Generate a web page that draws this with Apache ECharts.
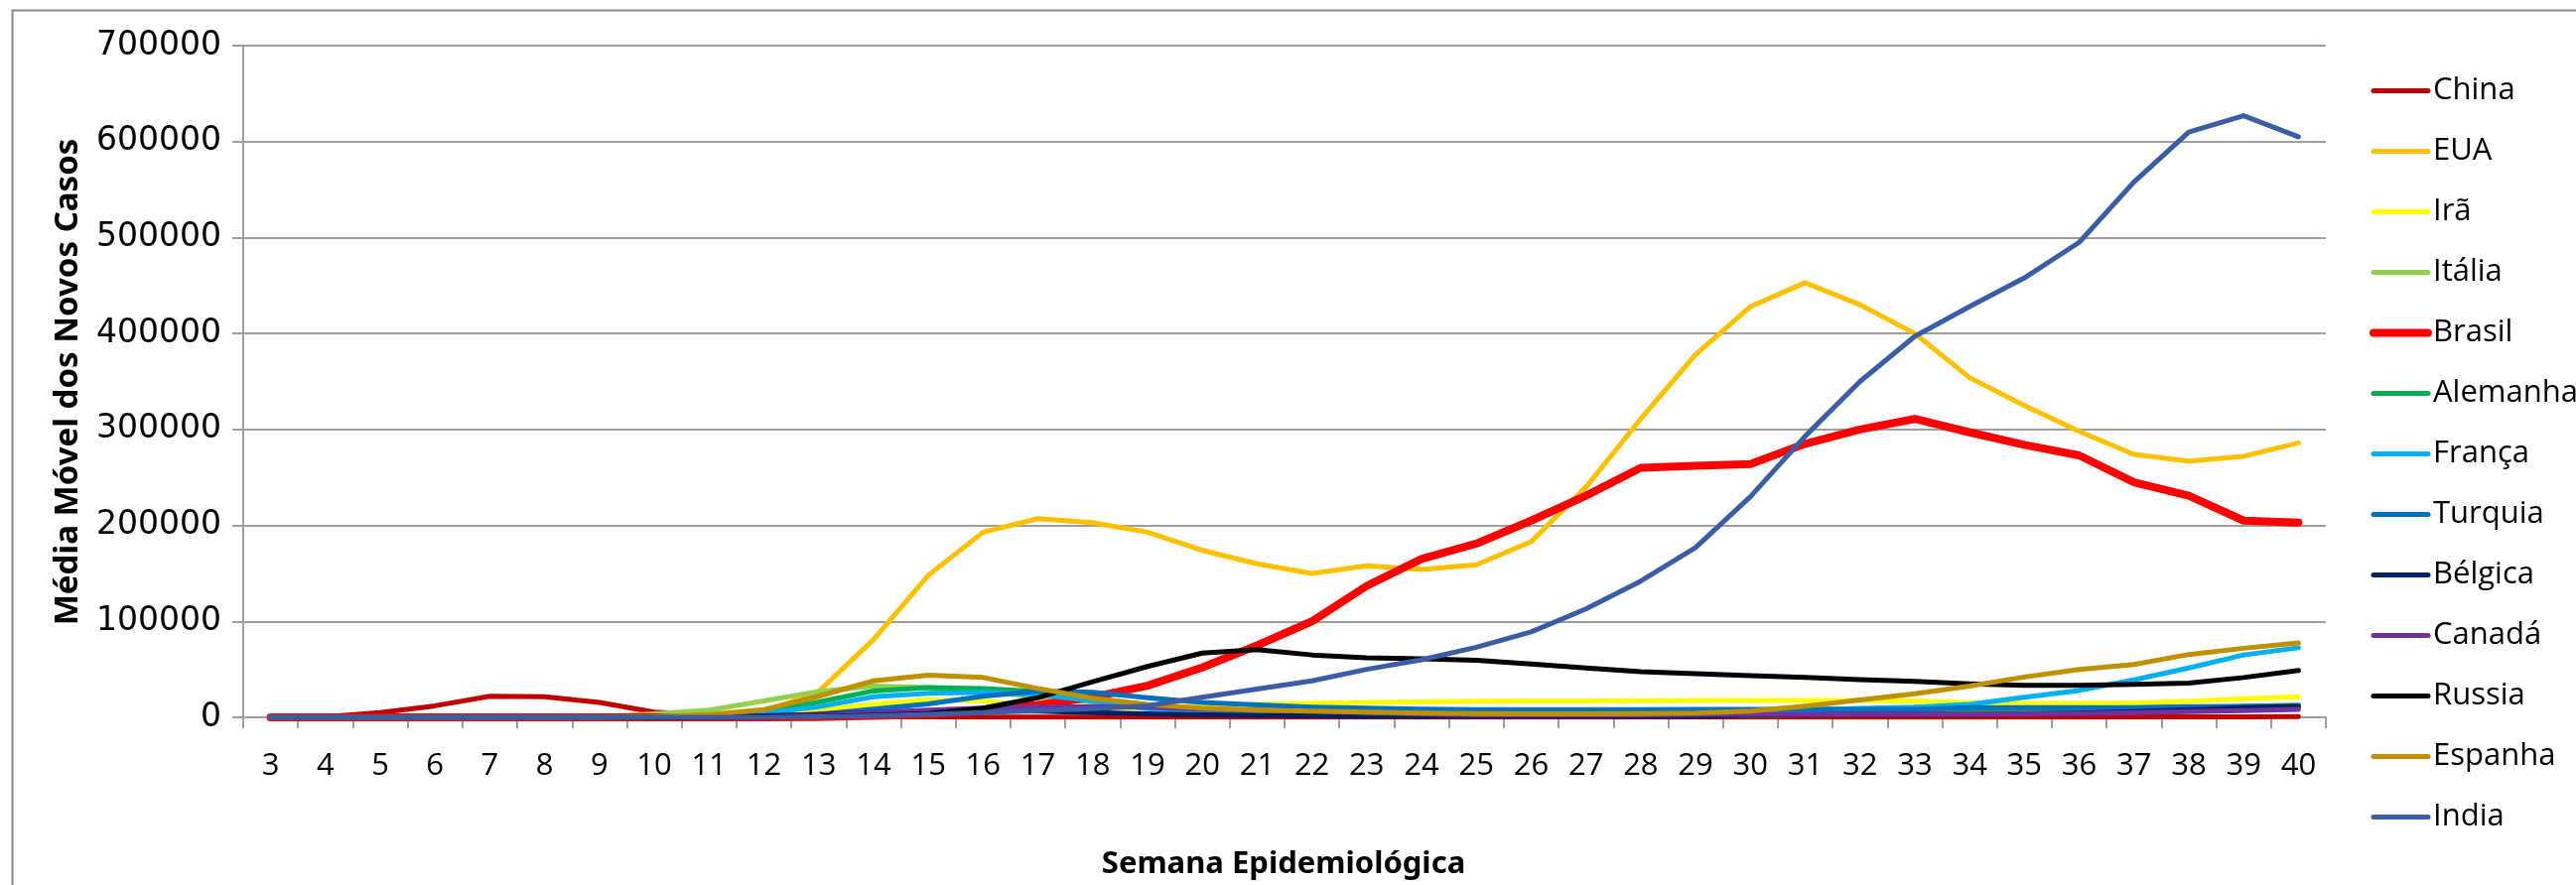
<!DOCTYPE html>
<html>
<head>
<meta charset="utf-8">
<script src="https://cdn.jsdelivr.net/npm/echarts@6/dist/echarts.min.js"></script>
<style>
html,body{margin:0;padding:0;background:#fff;}
#chart{width:2595px;height:892px;}
</style>
</head>
<body>
<div id="chart"></div>
<script>
// Semana epidemiológica (categorias)
const weeks = ['3','4','5','6','7','8','9','10','11','12','13','14','15','16','17','18','19','20','21','22','23','24','25','26','27','28','29','30','31','32','33','34','35','36','37','38','39','40'];
const yTicks = [0,100000,200000,300000,400000,500000,600000,700000];

const china    = [0,500,5000,12000,22000,21500,15500,5500,2500,1000, 600,500,500,300,200,200,200,200,200,200, 200,200,200,300,300,300,300,300,300,300, 300,300,300,300,400,500,600,800];
const eua      = [0,0,0,0,0,0,0,100,1000,5000, 27000,81000,148000,193000,207000,203000,193000,174000,160000,150000, 158000,154000,159000,183000,240000,311000,378000,428000,453000,430000, 400000,354000,325000,298000,274000,267000,272000,286000];
const ira      = [0,0,0,0,0,0,200,1500,2500,3500, 7600,13800,18300,17000,12000,9500,9500,12000,13800,14500, 15500,16000,16900,17000,17000,17300,17600,17600,17600,17600, 17000,15200,14500,14500,15000,16900,19300,21400];
const italia   = [0,0,0,0,0,0,500,3500,7500,17000, 27000,32500,31000,27000,21000,16000,11000,7000,5000,3500, 2500,2000,1700,1500,1500,1600,1700,2000,2500,3500, 5000,7000,8500,9500,10000,10500,11500,13000];
const brasil   = [0,0,0,0,0,0,0,0,0,0, 300,1500,3000,7000,13000,21000,33000,52000,75000,100000, 137000,165000,181000,205000,231000,260000,262000,264000,285000,300000, 311000,297000,284000,273000,245000,231000,205000,203000];
const alemanha = [0,0,0,0,0,0,0,500,2000,5000, 16000,27500,31000,30000,27000,20000,12000,7500,5000,3500, 3000,2500,2500,2500,3000,3000,3500,4000,5000,6500, 8000,8500,8500,9000,9500,10000,11000,12500];
const franca   = [0,0,0,0,0,0,0,500,1500,4000, 11000,21500,25000,26000,24000,17000,9000,5500,4000,3500, 3000,3000,3000,3500,4000,5000,6000,7000,8000,9300, 10700,13400,21000,28000,39000,51500,65000,72500];
const turquia  = [0,0,0,0,0,0,0,0,0,300, 3000,8600,14000,22000,27500,26000,20500,15500,12800,10700, 9500,8500,8000,8000,8000,8000,8300,8300,8300,8300, 8300,10000,10000,10000,10000,11000,11400,11700];
const belgica  = [0,0,0,0,0,0,0,0,300,1500, 3000,5000,6500,7000,6500,5000,3500,2500,2000,1500, 1000,1000,1000,1000,1000,1000,1000,2000,2500,3000, 3000,3000,3500,4500,6000,8000,10000,11500];
const canada   = [0,0,0,0,0,0,0,0,0,500, 2000,5000,7500,9500,10500,11000,10500,8500,7500,6500, 5000,3500,2500,2500,2500,2500,3000,3000,3000,3000, 3000,3000,3500,4000,5000,6000,7000,8300];
const russia   = [0,0,0,0,0,0,0,0,0,200, 800,2000,4000,9500,20500,37000,53000,67000,70500,65000, 62000,61000,59500,55500,51500,47500,45500,43500,41700,39300, 37600,35000,33300,33400,34400,35700,41500,48800];
const espanha  = [0,0,0,0,0,0,0,500,2800,8000, 22000,38000,44000,41500,30000,20000,13500,9500,7500,6500, 5500,4500,4000,3500,3500,4000,4500,6500,11700,18000, 24500,32500,42000,49800,55000,65500,72000,77600];
const india    = [0,0,0,0,0,0,0,0,0,0, 500,1500,3000,5000,7000,9000,12000,21000,29500,38000, 50000,60000,73000,89000,113000,142000,177000,230000,293000,350000, 397000,428000,458000,495000,558000,610000,627000,605000];

const seriesDefs = [
  ['China', china, '#C00000', 5],
  ['EUA', eua, '#FFC000', 5],
  ['Irã', ira, '#FFFF00', 5],
  ['Itália', italia, '#92D050', 5],
  ['Brasil', brasil, '#FF0000', 8],
  ['Alemanha', alemanha, '#00B050', 5],
  ['França', franca, '#00B0F0', 5],
  ['Turquia', turquia, '#0070C0', 5],
  ['Bélgica', belgica, '#002060', 5],
  ['Canadá', canada, '#7030A0', 5],
  ['Russia', russia, '#000000', 5],
  ['Espanha', espanha, '#BF9000', 5],
  ['India', india, '#3A5DA6', 5]
];

const chart = echarts.init(document.getElementById('chart'), null, {renderer:'canvas'});
const gridColor = '#9f9f9f';
chart.setOption({
  animation: false,
  backgroundColor: '#ffffff',
  grid: {left: 245, right: 252, top: 46, bottom: 169, containLabel: false},
  legend: {
    orient: 'vertical',
    left: 2382,
    top: 71,
    itemWidth: 55,
    itemHeight: 14,
    itemGap: 30,
    textStyle: {fontFamily: '"Open Sans", "Noto Sans", sans-serif', fontSize: 31, lineHeight: 31, color: '#000'},
    data: seriesDefs.map(d => ({
      name: d[0],
      itemStyle: {opacity: 0},
      lineStyle: {color: d[2], width: d[3], cap: 'round'}
    }))
  },
  xAxis: {
    type: 'category',
    data: weeks,
    boundaryGap: true,
    axisLine: {show: true, lineStyle: {color: gridColor, width: 2}},
    axisTick: {show: true, length: 11, alignWithLabel: false, lineStyle: {color: gridColor, width: 2}},
    axisLabel: {fontFamily: '"Open Sans", "Noto Sans", sans-serif', fontSize: 31, color: '#000', margin: 34, interval: 0},
    splitLine: {show: false}
  },
  yAxis: {
    type: 'value',
    min: yTicks[0],
    max: yTicks[yTicks.length - 1],
    interval: yTicks[1] - yTicks[0],
    axisLine: {show: true, lineStyle: {color: gridColor, width: 2}},
    axisTick: {show: true, length: 11, lineStyle: {color: gridColor, width: 2}},
    axisLabel: {fontFamily: '"DejaVu Sans", sans-serif', fontSize: 33, color: '#000', margin: 22, formatter: v => String(v)},
    splitLine: {show: true, lineStyle: {color: gridColor, width: 2}}
  },
  graphic: [
    {type: 'rect', silent: true, z: -1, shape: {x: 12.5, y: 10.5, width: 2700, height: 1000}, style: {fill: 'none', stroke: '#8a8a8a', lineWidth: 2}},
    {type: 'text', x: 69, y: 385, rotation: Math.PI / 2, style: {text: 'Média Móvel dos Novos Casos', font: 'bold 33px "Noto Sans", sans-serif', fill: '#000', align: 'center', verticalAlign: 'middle', textAlign: 'center', textVerticalAlign: 'middle'}},
    {type: 'text', x: 1293, y: 871, style: {text: 'Semana Epidemiológica', font: 'bold 31px "Noto Sans", sans-serif', fill: '#000', align: 'center', verticalAlign: 'middle', textAlign: 'center', textVerticalAlign: 'middle'}}
  ],
  series: seriesDefs.map(d => ({
    name: d[0],
    type: 'line',
    data: d[1],
    showSymbol: false,
    symbol: 'circle',
    symbolSize: 0,
    itemStyle: {color: 'rgba(0,0,0,0)'},
    lineStyle: {color: d[2], width: d[3], cap: 'round', join: 'round'},
    emphasis: {disabled: true}
  }))
});
</script>
</body>
</html>
